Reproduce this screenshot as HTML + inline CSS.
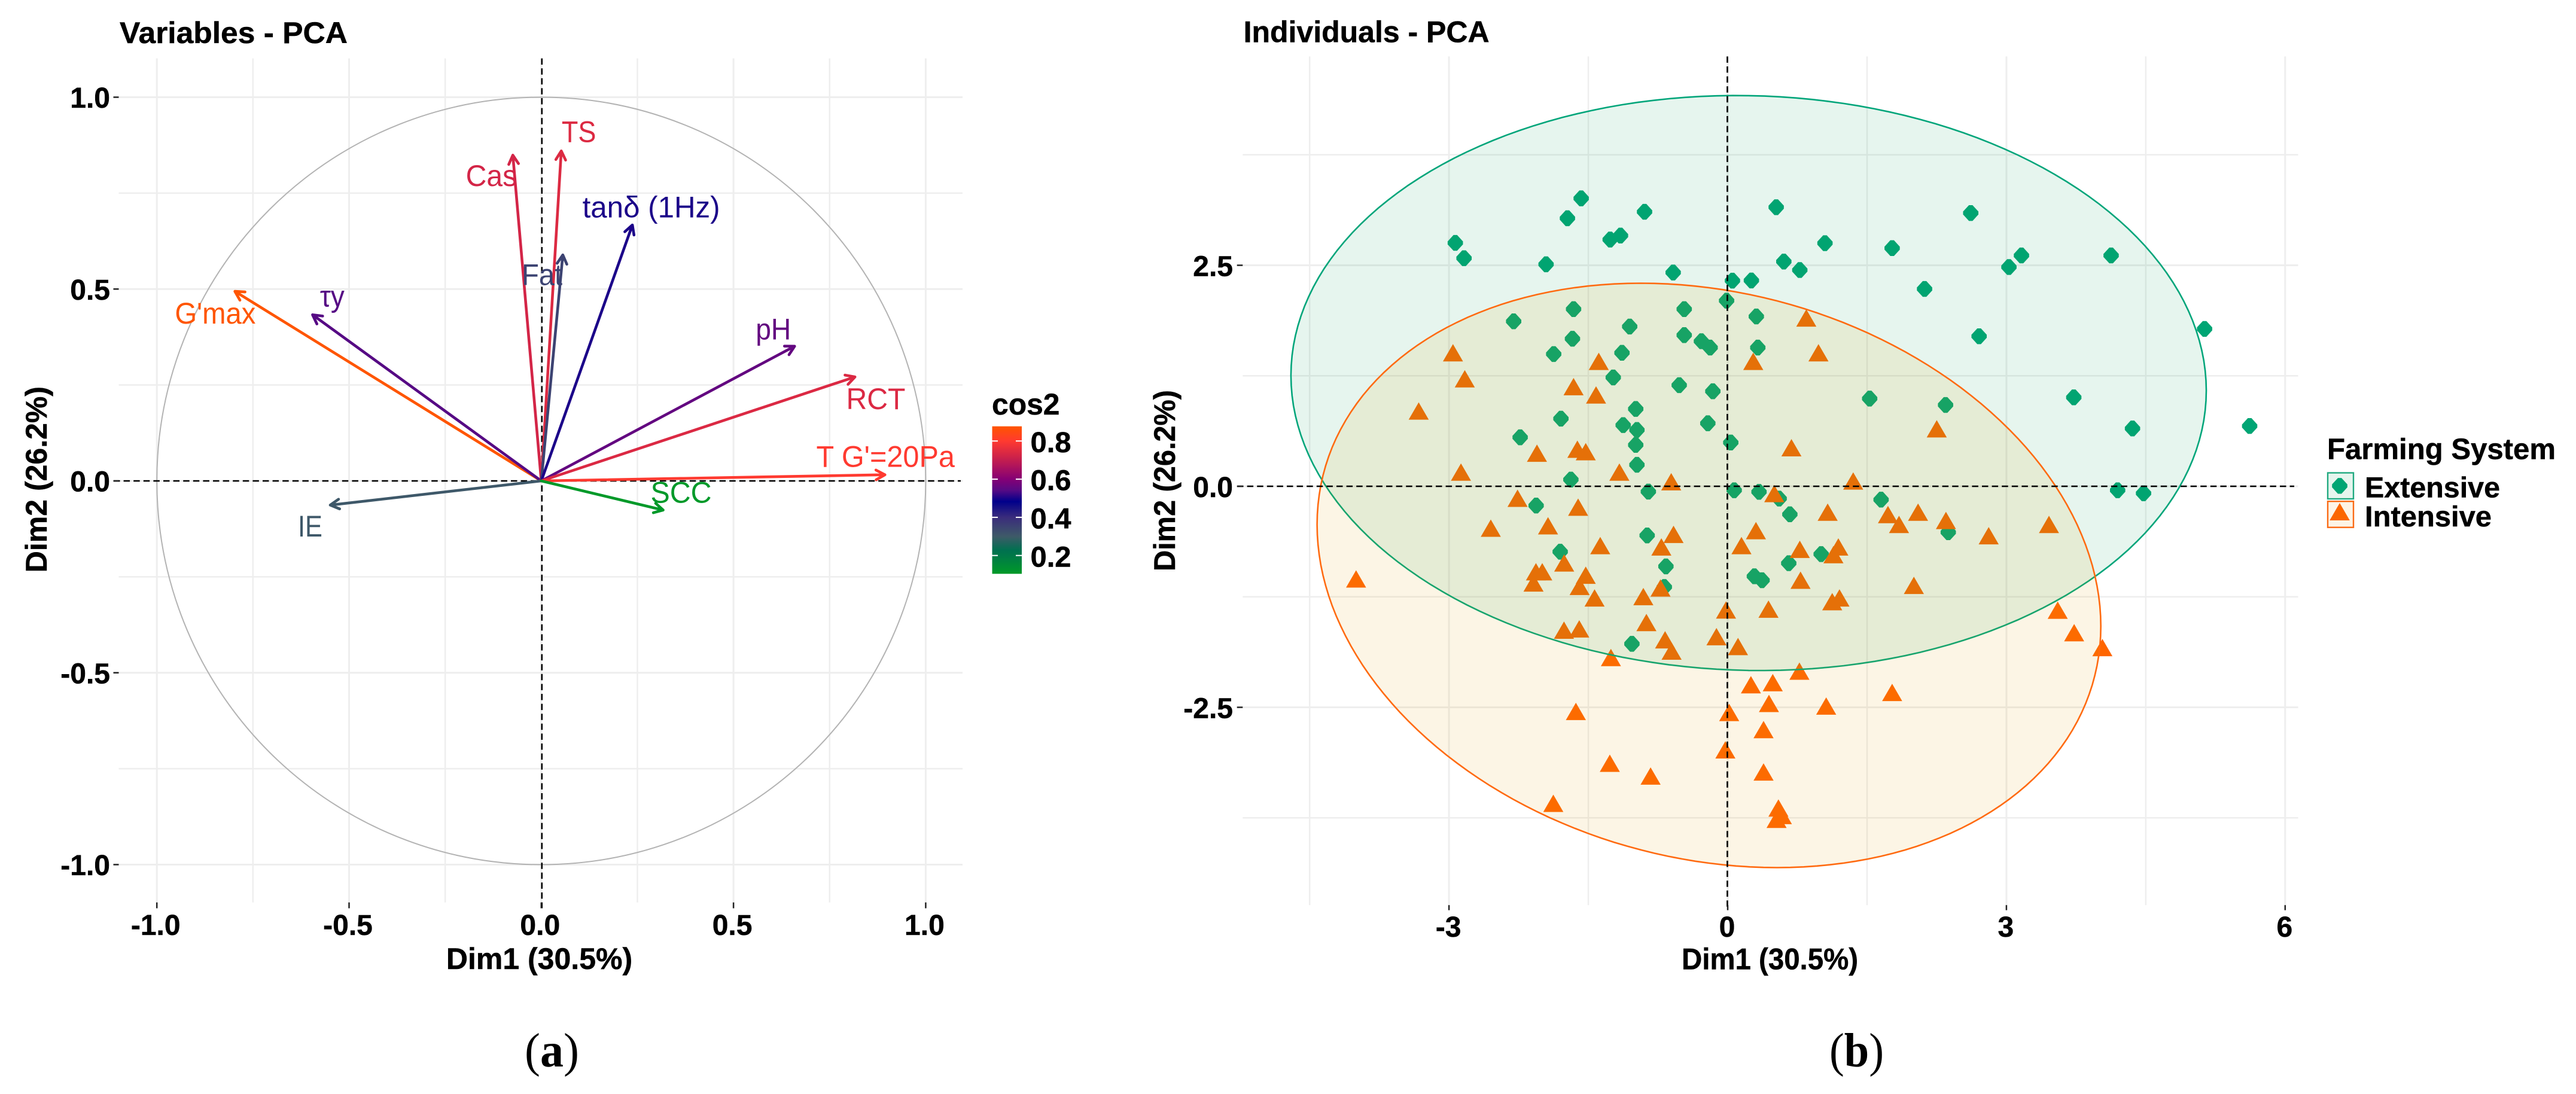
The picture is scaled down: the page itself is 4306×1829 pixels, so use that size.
<!DOCTYPE html>
<html lang="en">
<head>
<meta charset="utf-8">
<title>PCA biplots</title>
<style>
html,body{margin:0;padding:0;background:#fff;}
svg{display:block;}
text{font-family:"Liberation Sans",sans-serif;}
.serif{font-family:"Liberation Serif",serif;}
</style>
</head>
<body>
<svg id="fig" xmlns="http://www.w3.org/2000/svg" width="4306" height="1829" viewBox="0 0 4306 1829">
  <rect x="0" y="0" width="4306" height="1829" fill="#ffffff"/>
  <g id="panelA"></g>
  <g id="panelB"></g>
  <text class="serif" x="877" y="1783" font-size="80" textLength="91" lengthAdjust="spacingAndGlyphs" fill="#000">(<tspan font-weight="bold">a</tspan>)</text>
  <text class="serif" x="3058" y="1783" font-size="80" textLength="91" lengthAdjust="spacingAndGlyphs" fill="#000">(<tspan font-weight="bold">b</tspan>)</text>
</svg>
<script>
// ---------- Panel A data: variable loadings ----------
const varNames = ["G'max", "τy", "Cas", "TS", "Fat", "tanδ (1Hz)", "IE", "pH", "RCT", "T G'=20Pa", "SCC"];
const varDim1 = [-0.797, -0.595, -0.074, 0.052, 0.056, 0.237, -0.549, 0.659, 0.816, 0.894, 0.317];
const varDim2 = [0.494, 0.433, 0.849, 0.860, 0.589, 0.667, -0.063, 0.351, 0.271, 0.016, -0.076];
const varCos2 = [0.879, 0.541, 0.726, 0.742, 0.350, 0.501, 0.305, 0.557, 0.739, 0.800, 0.106];
const axisTicksA = [-1, -0.5, 0, 0.5, 1];
const axisMinorA = [-0.75, -0.25, 0.25, 0.75];
const axisTickLabelsA = ["-1.0", "-0.5", "0.0", "0.5", "1.0"];
const cos2Ticks = [0.2, 0.4, 0.6, 0.8];
const cos2TickLabels = ["0.2", "0.4", "0.6", "0.8"];
const cos2Stops = [0.104, 0.2, 0.228, 0.3, 0.4, 0.483, 0.541, 0.6, 0.708, 0.8, 0.877];
const cos2Colors = ["#009a28", "#007848", "#007050", "#3e5a68", "#3a2c7c", "#00008b", "#560a84", "#850075", "#c8204c", "#ff3a30", "#ff5500"];

// ---------- Panel B data: individuals ----------
const extensiveDim1 = [-1.577,-1.725,-0.895,-1.154,-1.265,-2.932,-2.838,-1.955,-0.587,0.051,-0.012,-1.659,-0.468,-2.304,-1.055,-0.468,-1.671,-0.283,-0.189,-1.873,-1.138,-1.232,-0.522,-0.16,-0.99,-1.795,-1.125,-0.977,-0.214,-2.234,-0.99,0.033,-0.977,-1.688,-0.854,-2.062,-0.867,-1.803,-0.665,-0.682,-1.031,0.522,2.616,1.047,1.77,0.604,0.776,3.162,3.027,4.127,0.255,2.119,0.308,2.706,5.133,0.324,1.528,2.345,3.725,4.357,5.618,0.07,0.337,0.554,0.669,1.651,4.197,4.476,2.374,1.006,0.657,0.287,0.37];
const extensiveDim2 = [3.257,3.032,3.105,2.836,2.791,2.753,2.58,2.511,2.418,2.326,2.1,2.004,2.004,1.866,1.807,1.71,1.669,1.641,1.569,1.496,1.51,1.231,1.144,1.075,0.875,0.765,0.692,0.637,0.713,0.554,0.468,0.495,0.243,0.076,-0.06,-0.218,-0.556,-0.74,-0.906,-1.139,-1.782,3.157,3.091,2.75,2.694,2.542,2.446,2.611,2.48,2.611,2.328,2.232,1.921,1.697,1.78,1.569,0.992,0.92,1.006,0.654,0.682,-0.045,-0.063,-0.139,-0.317,-0.151,-0.045,-0.079,-0.52,-0.767,-0.87,-1.018,-1.063];
const intensiveDim1 = [-2.957,-2.83,-1.388,-1.659,-1.417,-3.326,-2.053,-1.618,-1.528,-2.871,-1.166,-0.608,-2.262,-1.61,-2.55,-1.934,-0.583,-0.714,-1.372,-1.76,-2.064,-1.996,-2.09,-1.528,-1.594,-0.723,-0.908,-1.433,-0.018,-0.875,-1.762,-1.598,-0.121,-0.674,-0.604,-1.257,0.111,-4.0,-1.634,0.016,-1.269,-0.83,-1.877,-0.025,0.846,0.977,0.275,2.25,0.686,1.351,0.501,1.076,1.725,2.049,1.844,2.349,3.458,2.809,0.304,0.148,0.776,1.191,1.138,0.784,2.004,1.203,1.125,0.439,3.552,3.729,4.033,0.772,0.25,0.485,1.77,0.444,1.06,0.386,0.386,0.546,0.583,0.526];
const intensiveDim2 = [1.507,1.213,1.41,1.124,1.03,0.848,0.371,0.416,0.388,0.157,0.157,0.048,-0.139,-0.239,-0.477,-0.45,-0.547,-0.689,-0.674,-0.87,-0.97,-0.97,-1.097,-1.009,-1.136,-1.154,-1.251,-1.266,-1.402,-1.544,-1.631,-1.616,-1.704,-1.74,-1.867,-1.94,-1.816,-1.051,-2.55,-2.562,-3.136,-3.281,-3.589,-2.985,1.9,1.507,1.41,0.647,0.433,0.057,-0.085,-0.296,-0.323,-0.296,-0.435,-0.39,-0.435,-0.562,-0.505,-0.674,-0.716,-0.689,-0.776,-1.066,-1.124,-1.266,-1.308,-1.393,-1.405,-1.659,-1.828,-2.094,-2.248,-2.224,-2.335,-2.459,-2.489,-2.755,-3.235,-3.643,-3.727,-3.77];
const ellipseGroups = ["extensive", "intensive"];
const ellipseCenterDim1 = [0.225, -0.202];
const ellipseCenterDim2 = [1.168, -1.008];
const ellipseSemiDim1 = [4.926, 4.218];
const ellipseSemiDim2 = [3.252, 3.305];
const ellipseTilt = [-0.085, -0.575];
const axisXTicksB = [-3, 0, 3, 6];
const axisXMinorB = [-4.5, -1.5, 1.5, 4.5];
const axisXTickLabelsB = ["-3", "0", "3", "6"];
const axisYTicksB = [-2.5, 0, 2.5];
const axisYMinorB = [-3.75, -1.25, 1.25, 3.75];
const axisYTickLabelsB = ["-2.5", "0.0", "2.5"];
const legendLabelsB = ["Extensive", "Intensive"];

// ---------- Axis functions ----------
function xA(v){ return 904.8 + 642.6 * v; }
function yA(v){ return 804.0 - 641.5 * v; }
function xB(v){ return 2888 + 155.3 * v; }
function yB(v){ return 813 - 147.8 * v; }

const NS = "http://www.w3.org/2000/svg";
const panelA = document.getElementById("panelA");
const panelB = document.getElementById("panelB");

function mk(parent, tag, name, attrs, content){
  const el = document.createElementNS(NS, tag);
  
  
  for (const k in attrs) el.setAttribute(k, attrs[k]);
  if (content !== undefined) el.textContent = content;
  parent.appendChild(el);
  return el;
}
function hexToRgb(h){ return [parseInt(h.slice(1,3),16), parseInt(h.slice(3,5),16), parseInt(h.slice(5,7),16)]; }
function cos2Color(v){
  const s = cos2Stops, c = cos2Colors;
  if (v <= s[0]) return c[0];
  if (v >= s[s.length-1]) return c[c.length-1];
  for (let i = 1; i < s.length; i++){
    if (v <= s[i]){
      const t = (v - s[i-1]) / (s[i] - s[i-1]);
      const a = hexToRgb(c[i-1]), b = hexToRgb(c[i]);
      return "rgb(" + a.map((q, j) => Math.round(q + (b[j] - q) * t)).join(",") + ")";
    }
  }
  return c[0];
}
function boldText(parent, name, x, y, size, str, anchor, width){
  const attrs = {x: x, y: y, "font-size": size, "font-weight": "bold", fill: "#000", stroke: "#000", "stroke-width": 0.5, "text-anchor": anchor || "start"};
  if (width){ attrs.textLength = width; attrs.lengthAdjust = "spacingAndGlyphs"; }
  return mk(parent, "text", name, attrs, str);
}

// ---------- Panel A ----------
(function(){
  const L = 198.5, R = 1609, T = 97.6, B = 1508.7;
  const grid = mk(panelA, "g", "variables-grid", {stroke: "#eeeeee", fill: "none"});
  axisMinorA.forEach(v => {
    mk(grid, "line", "minor-gridline-x", {x1: xA(v), x2: xA(v), y1: T, y2: B, "stroke-width": 2.5});
    mk(grid, "line", "minor-gridline-y", {x1: L, x2: R, y1: yA(v), y2: yA(v), "stroke-width": 2.5});
  });
  axisTicksA.forEach(v => {
    mk(grid, "line", "major-gridline-x", {x1: xA(v), x2: xA(v), y1: T, y2: B, "stroke-width": 3});
    mk(grid, "line", "major-gridline-y", {x1: L, x2: R, y1: yA(v), y2: yA(v), "stroke-width": 3});
  });
  mk(panelA, "ellipse", "correlation-circle", {cx: xA(0), cy: yA(0), rx: xA(1) - xA(0), ry: yA(0) - yA(1), fill: "none", stroke: "#b3b3b3", "stroke-width": 2});
  mk(panelA, "line", "zero-line-horizontal", {x1: 190, x2: 1606, y1: yA(0), y2: yA(0), stroke: "#000", "stroke-width": 2.6, "stroke-dasharray": "10.5 6.1"});
  mk(panelA, "line", "zero-line-vertical", {x1: xA(0) + 1, x2: xA(0) + 1, y1: T, y2: 1518.5, stroke: "#000", "stroke-width": 2.6, "stroke-dasharray": "10.5 6.1"});

  axisTicksA.forEach((v, i) => {
    mk(panelA, "line", "y-axis-tick", {x1: 189.5, x2: L, y1: yA(v), y2: yA(v), stroke: "#222", "stroke-width": 2.5});
    mk(panelA, "line", "x-axis-tick", {x1: xA(v), x2: xA(v), y1: B, y2: 1518.5, stroke: "#222", "stroke-width": 2.5});
    boldText(panelA, "y-axis-tick-label", 184, yA(v) + 17.5, 48, axisTickLabelsA[i], "end");
    boldText(panelA, "x-axis-tick-label", xA(v) - 2, 1563, 48, axisTickLabelsA[i], "middle");
  });
  boldText(panelA, "variables-plot-title", 200, 72, 50, "Variables - PCA", "start", 381);
  boldText(panelA, "x-axis-title", 901.5, 1620, 50, "Dim1 (30.5%)", "middle");
  const yt = boldText(panelA, "y-axis-title", 0, 0, 50, "Dim2 (26.2%)", "middle");
  yt.setAttribute("transform", "translate(78 801.6) rotate(-90)");

  // label placement relative to arrow tip: dx, dy of baseline start and fitted width
  const labelLayout = {
    "G'max": [-100.3, 53.9, 135], "τy": [12.4, -13.8, 41], "Cas": [-78.6, 51.5, 85.6], "TS": [0.7, -14.6, 57.5],
    "Fat": [-68.7, 50.5, 68], "tanδ (1Hz)": [-83.5, -12.5, 230], "IE": [-54, 52.4, 41], "pH": [-65, -11.4, 59],
    "RCT": [-14.7, 53.7, 99], "T G'=20Pa": [-114.8, -13.4, 231.5], "SCC": [-21, -12.1, 102]
  };
  const arrows = mk(panelA, "g", "variable-arrows", {fill: "none", "stroke-width": 4.6, "stroke-linecap": "round", "stroke-linejoin": "round"});
  const labels = mk(panelA, "g", "variable-labels", {});
  varNames.forEach((nm, i) => {
    const col = cos2Color(varCos2[i]);
    const x0 = xA(0), y0 = yA(0), x1 = xA(varDim1[i]), y1 = yA(varDim2[i]);
    const ang = Math.atan2(y1 - y0, x1 - x0), h = 17, w = 0.5;
    const ax = x1 - h * Math.cos(ang - w), ay = y1 - h * Math.sin(ang - w);
    const bx = x1 - h * Math.cos(ang + w), by = y1 - h * Math.sin(ang + w);
    mk(arrows, "path", "arrow-" + nm.replace(/[^A-Za-z0-9]+/g, "-").toLowerCase(), {
      d: "M" + x0 + " " + y0 + "L" + x1 + " " + y1 + "M" + ax + " " + ay + "L" + x1 + " " + y1 + "L" + bx + " " + by,
      stroke: col
    });
    const lay = labelLayout[nm];
    mk(labels, "text", "label-" + nm.replace(/[^A-Za-z0-9]+/g, "-").toLowerCase(), {
      x: x1 + lay[0], y: y1 + lay[1], "font-size": 50, fill: col, textLength: lay[2], lengthAdjust: "spacingAndGlyphs"
    }, nm);
  });

  // colour legend
  const defs = mk(panelA, "defs", "cos2-gradient-defs", {});
  const grad = mk(defs, "linearGradient", "cos2-gradient", {id: "cos2Grad", x1: 0, x2: 0, y1: 1, y2: 0});
  const lo = cos2Stops[0], hi = cos2Stops[cos2Stops.length - 1];
  cos2Stops.forEach((s, i) => {
    mk(grad, "stop", "cos2-gradient-stop", {offset: (s - lo) / (hi - lo), "stop-color": cos2Colors[i]});
  });
  function yC(v){ return 928.7 - (v - 0.2) * 319; }
  boldText(panelA, "cos2-legend-title", 1658, 693, 50, "cos2", "start", 113.5);
  mk(panelA, "rect", "cos2-colorbar", {x: 1658.5, y: yC(hi), width: 49.5, height: yC(lo) - yC(hi), fill: "url(#cos2Grad)"});
  cos2Ticks.forEach((v, i) => {
    mk(panelA, "line", "cos2-tick-left", {x1: 1658.5, x2: 1668, y1: yC(v), y2: yC(v), stroke: "#fff", "stroke-width": 2});
    mk(panelA, "line", "cos2-tick-right", {x1: 1698, x2: 1708, y1: yC(v), y2: yC(v), stroke: "#fff", "stroke-width": 2});
    boldText(panelA, "cos2-tick-label", 1722.5, yC(v) + 18.6, 48, cos2TickLabels[i], "start", 68);
  });
})();

// ---------- Panel B ----------
(function(){
  const L = 2077.3, R = 3841.5, T = 94.4, B = 1513.2;
  const grid = mk(panelB, "g", "individuals-grid", {stroke: "#eeeeee", fill: "none"});
  axisXMinorB.forEach(v => mk(grid, "line", "minor-gridline-x", {x1: xB(v), x2: xB(v), y1: T, y2: B, "stroke-width": 2.5}));
  axisYMinorB.forEach(v => mk(grid, "line", "minor-gridline-y", {x1: L, x2: R, y1: yB(v), y2: yB(v), "stroke-width": 2.5}));
  axisXTicksB.forEach(v => mk(grid, "line", "major-gridline-x", {x1: xB(v), x2: xB(v), y1: T, y2: B, "stroke-width": 3}));
  axisYTicksB.forEach(v => mk(grid, "line", "major-gridline-y", {x1: L, x2: R, y1: yB(v), y2: yB(v), "stroke-width": 3}));

  const DIAMOND = "M-3 -13.2L3 -13.2L12.8 -2.5L12.8 2.5L3 13.2L-3 13.2L-12.8 2.5L-12.8 -2.5Z";
  const TRIANGLE = "M0 -15L16.8 14L-16.8 14Z";
  const ptsE = mk(panelB, "g", "extensive-points", {fill: "#00a574"});
  extensiveDim1.forEach((v, i) => {
    mk(ptsE, "path", "extensive-point", {d: DIAMOND, transform: "translate(" + xB(v) + " " + yB(extensiveDim2[i]) + ")"});
  });
  const ptsI = mk(panelB, "g", "intensive-points", {fill: "#ff6600"});
  intensiveDim1.forEach((v, i) => {
    mk(ptsI, "path", "intensive-point", {d: TRIANGLE, transform: "translate(" + xB(v) + " " + yB(intensiveDim2[i]) + ")"});
  });

  const fills = ["#059b55", "#E69F00"], strokes = ["#00a57a", "#ff6a10"];
  ellipseGroups.forEach((g, k) => {
    const a = ellipseSemiDim1[k], b = ellipseSemiDim2[k], d = ellipseTilt[k];
    const f = Math.sqrt(b * b - d * d);
    let p = "";
    for (let j = 0; j < 180; j++){
      const t = j / 180 * 2 * Math.PI;
      const vx = ellipseCenterDim1[k] + a * Math.cos(t);
      const vy = ellipseCenterDim2[k] + d * Math.cos(t) + f * Math.sin(t);
      p += (j ? "L" : "M") + xB(vx).toFixed(1) + " " + yB(vy).toFixed(1);
    }
    mk(panelB, "path", g + "-ellipse", {d: p + "Z", fill: fills[k], "fill-opacity": 0.1, stroke: strokes[k], "stroke-width": 2.6});
  });

  mk(panelB, "line", "zero-line-horizontal", {x1: 2068, x2: 3835, y1: yB(0), y2: yB(0), stroke: "#000", "stroke-width": 2.6, "stroke-dasharray": "10.5 6.1"});
  mk(panelB, "line", "zero-line-vertical", {x1: 2887.4, x2: 2887.4, y1: T, y2: 1521.7, stroke: "#000", "stroke-width": 2.6, "stroke-dasharray": "10.5 6.1"});

  axisYTicksB.forEach((v, i) => {
    mk(panelB, "line", "y-axis-tick", {x1: 2067.7, x2: L, y1: yB(v), y2: yB(v), stroke: "#222", "stroke-width": 2.5});
    boldText(panelB, "y-axis-tick-label", 2061, yB(v) + 18, 48, axisYTickLabelsB[i], "end");
  });
  axisXTicksB.forEach((v, i) => {
    mk(panelB, "line", "x-axis-tick", {x1: xB(v), x2: xB(v), y1: B, y2: 1521.7, stroke: "#222", "stroke-width": 2.5});
    boldText(panelB, "x-axis-tick-label", xB(v) - 1, 1566, 48, axisXTickLabelsB[i], "middle");
  });
  boldText(panelB, "individuals-plot-title", 2078.6, 70.5, 50, "Individuals - PCA", "start", 411);
  boldText(panelB, "x-axis-title", 2958.5, 1620.5, 50, "Dim1 (30.5%)", "middle", 295);
  const yt = boldText(panelB, "y-axis-title", 0, 0, 50, "Dim2 (26.2%)", "middle", 303);
  yt.setAttribute("transform", "translate(1964 803.5) rotate(-90)");

  // legend
  boldText(panelB, "farming-system-legend-title", 3890, 767.7, 49, "Farming System", "start", 382);
  const keyY = [790.5, 838.2], keyFill = ["#e6f5ee", "#fdf4e6"], keyStroke = ["#1fa97f", "#fb6a14"], textY = [831.7, 880], textW = [226, 212];
  legendLabelsB.forEach((lab, i) => {
    mk(panelB, "rect", "legend-key-" + lab.toLowerCase(), {x: 3891, y: keyY[i], width: 43, height: 43.5, fill: keyFill[i], stroke: keyStroke[i], "stroke-width": 2.4});
    mk(panelB, "path", "legend-marker-" + lab.toLowerCase(), {d: i ? TRIANGLE : DIAMOND, fill: i ? "#fb6600" : "#00a574", transform: "translate(3911 " + (i ? 856 : 812.3) + ")"});
    boldText(panelB, "legend-label-" + lab.toLowerCase(), 3953, textY[i], 48, lab, "start", textW[i]);
  });
})();
</script>
</body>
</html>
